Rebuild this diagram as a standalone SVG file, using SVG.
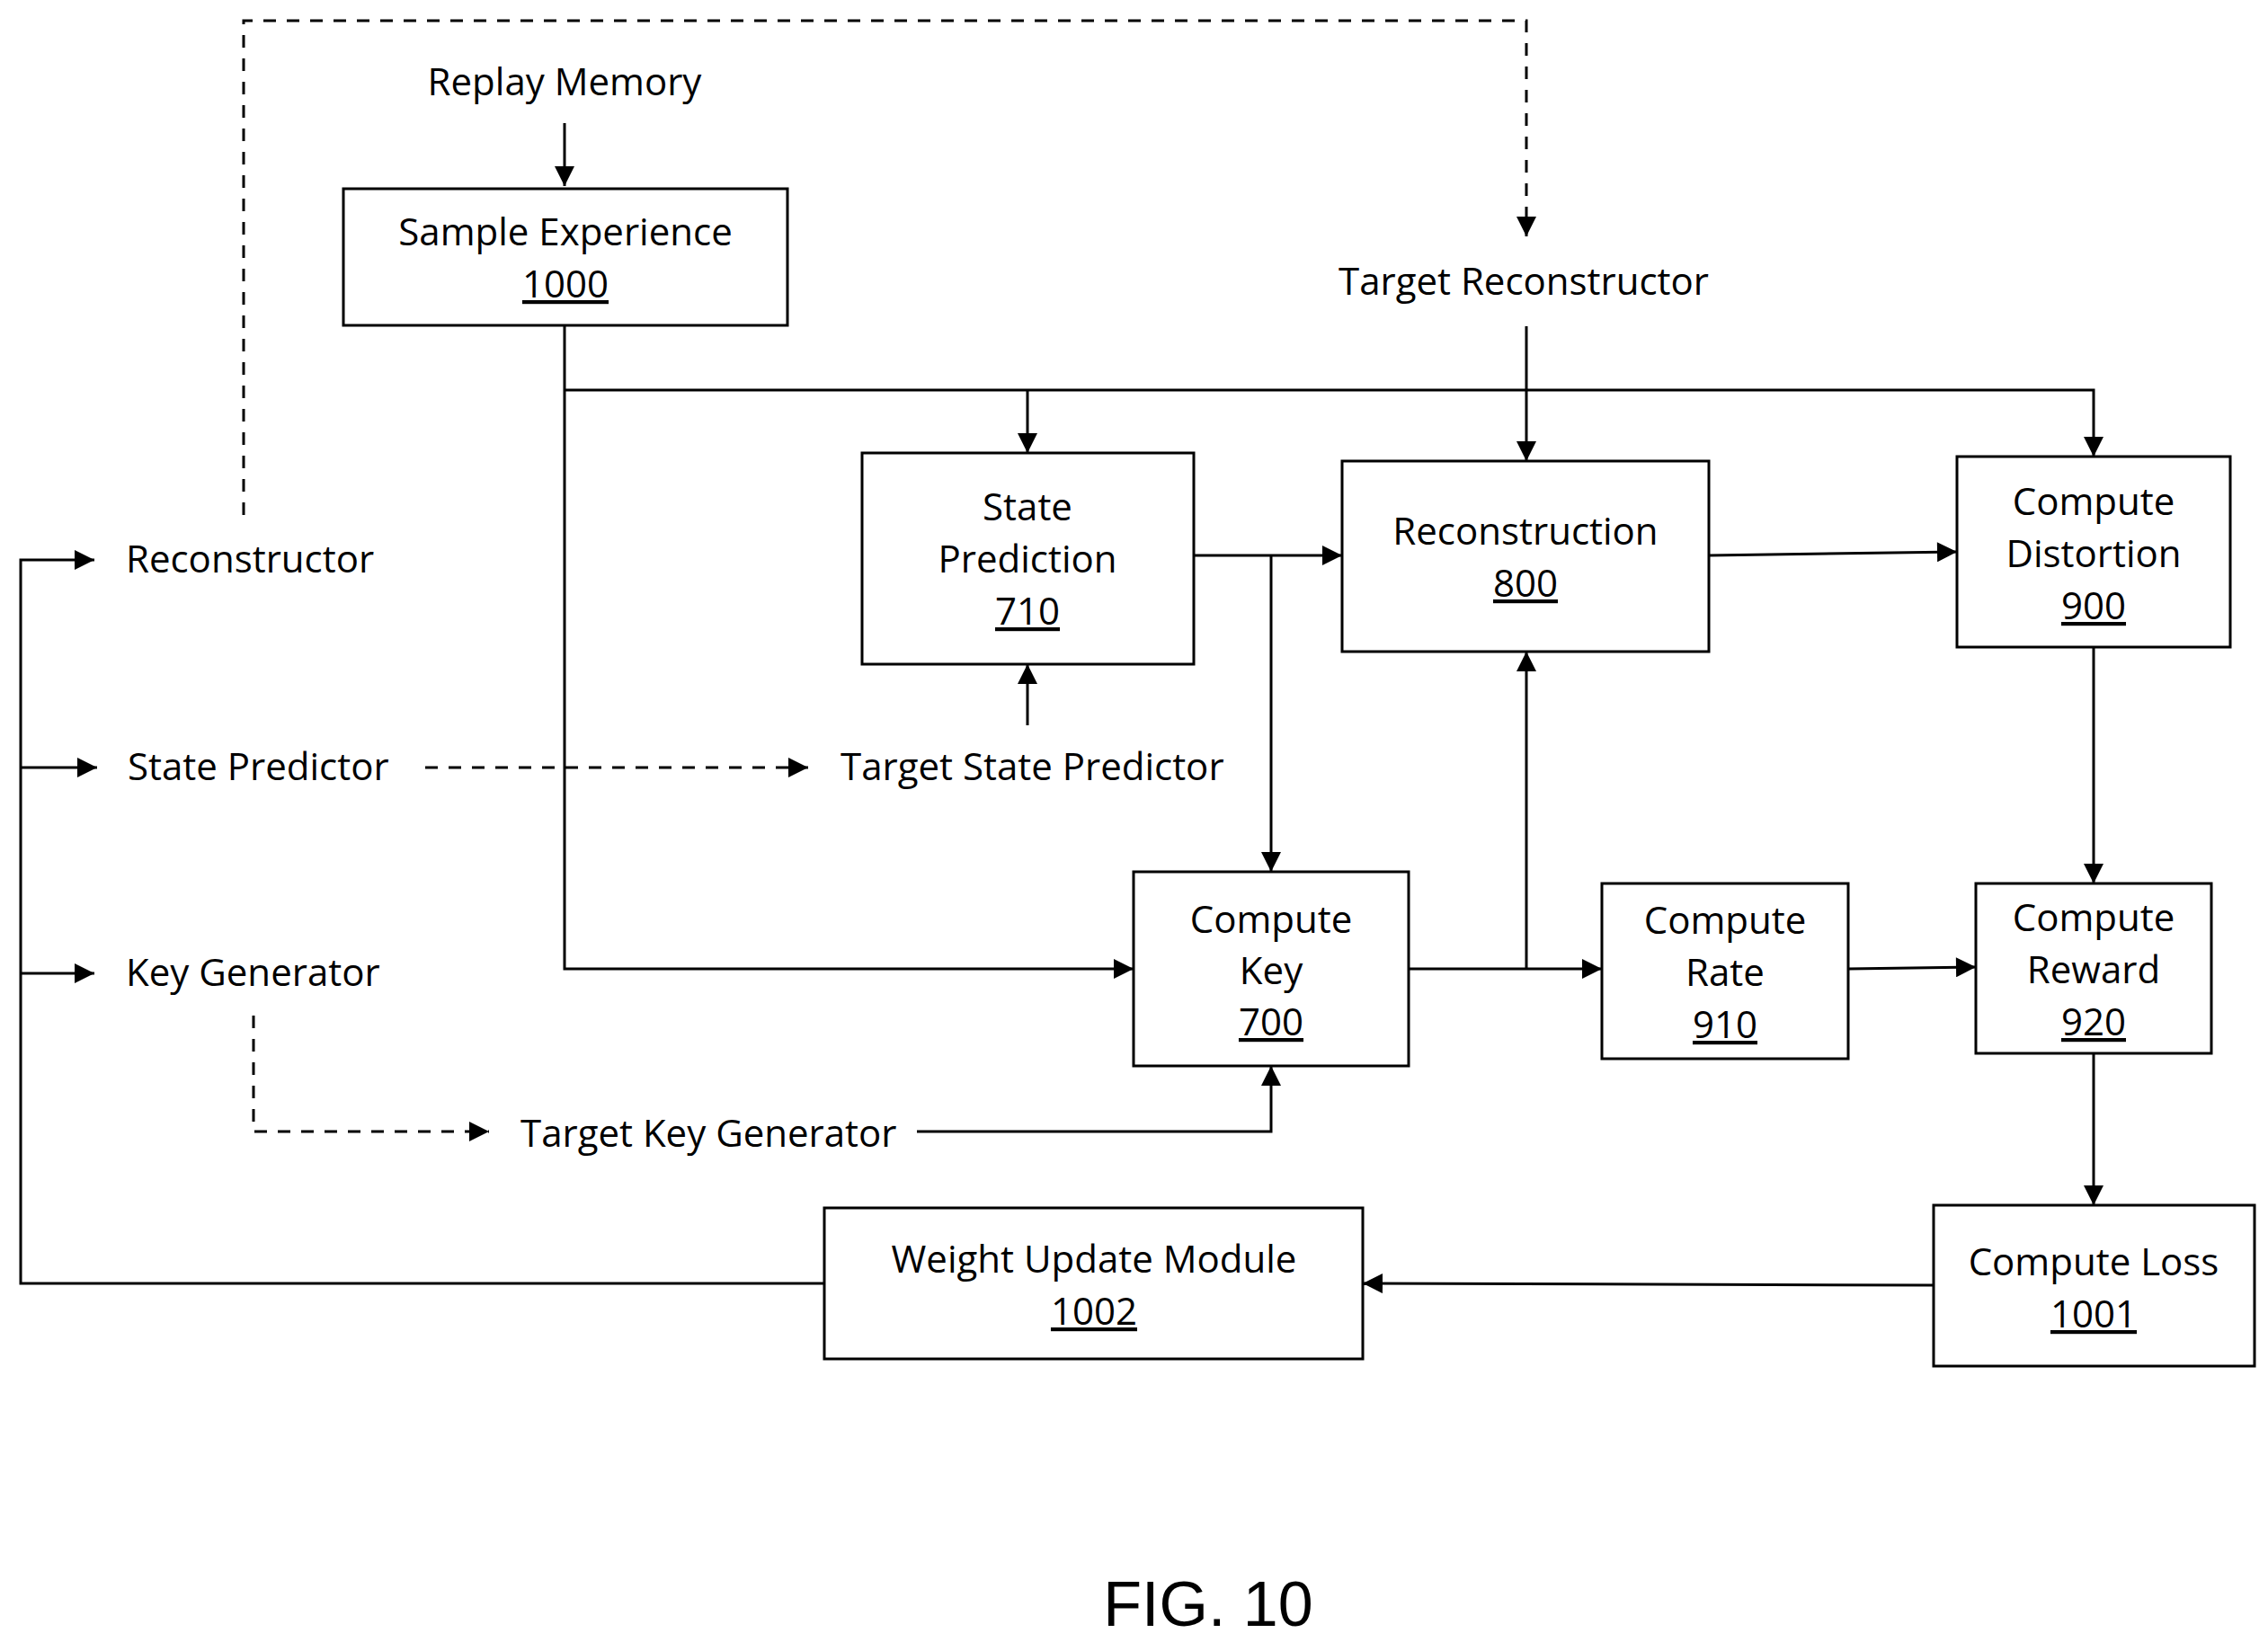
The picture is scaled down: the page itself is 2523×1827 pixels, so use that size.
<svg xmlns="http://www.w3.org/2000/svg" width="2523" height="1827" viewBox="0 0 2523 1827">
<style>
text{font-family:"Open Sans","Noto Sans","DejaVu Sans",sans-serif;font-size:42px;fill:#000}
.c{text-anchor:middle}
.u{text-decoration:underline}
rect{fill:#fff;stroke:#000;stroke-width:3}
.l{fill:none;stroke:#000;stroke-width:3}
.d{stroke-dasharray:14 12}
</style>
<defs>
<marker id="a" viewBox="0 0 10 10" refX="10" refY="5" markerWidth="24" markerHeight="22" markerUnits="userSpaceOnUse" orient="auto"><path d="M0,0L10,5L0,10z" fill="#000"/></marker>
</defs>
<rect width="2523" height="1827" style="stroke:none"/>
<g id="connectors">
<path class="l d" d="M271,573V23H1698V263" marker-end="url(#a)"/>
<path class="l" d="M628,137V207" marker-end="url(#a)"/>
<path class="l" d="M628,362V1078H1261" marker-end="url(#a)"/>
<path class="l" d="M628,434H2329V508" marker-end="url(#a)"/>
<path class="l" d="M1143,434V504" marker-end="url(#a)"/>
<path class="l" d="M1698,363V513" marker-end="url(#a)"/>
<path class="l" d="M1328,618H1493" marker-end="url(#a)"/>
<path class="l" d="M1414,618V970" marker-end="url(#a)"/>
<path class="l" d="M1143,807V739" marker-end="url(#a)"/>
<path class="l" d="M1901,618L2177,614" marker-end="url(#a)"/>
<path class="l" d="M2329,720V983" marker-end="url(#a)"/>
<path class="l" d="M1567,1078H1782" marker-end="url(#a)"/>
<path class="l" d="M1698,1078V725" marker-end="url(#a)"/>
<path class="l" d="M2056,1078L2198,1076" marker-end="url(#a)"/>
<path class="l" d="M2329,1172V1341" marker-end="url(#a)"/>
<path class="l" d="M2151,1430L1516,1428" marker-end="url(#a)"/>
<path class="l" d="M917,1428H23V623H105" marker-end="url(#a)"/>
<path class="l" d="M23,854H108" marker-end="url(#a)"/>
<path class="l" d="M23,1083H105" marker-end="url(#a)"/>
<path class="l d" d="M473,854H899" marker-end="url(#a)"/>
<path class="l d" d="M282,1130V1259H544" marker-end="url(#a)"/>
<path class="l" d="M1020,1259H1414V1186" marker-end="url(#a)"/>
</g>
<g id="labels">
<text class="c" x="628" y="106">Replay Memory</text>
<text class="c" x="1695" y="328">Target Reconstructor</text>
<text x="140" y="637">Reconstructor</text>
<text x="142" y="868">State Predictor</text>
<text x="935" y="868">Target State Predictor</text>
<text x="140" y="1097">Key Generator</text>
<text x="579" y="1276">Target Key Generator</text>
<text class="c" x="1344" y="1809" style="font-family:'Liberation Sans',Arial,sans-serif;font-size:70px">FIG. 10</text>
</g>
<g id="n1000"><rect x="382" y="210" width="494" height="152"/><text class="c" x="629" y="273">Sample Experience</text><text class="c u" x="629" y="331">1000</text></g>
<g id="n710"><rect x="959" y="504" width="369" height="235"/><text class="c" x="1143" y="579">State</text><text class="c" x="1143" y="637">Prediction</text><text class="c u" x="1143" y="695">710</text></g>
<g id="n800"><rect x="1493" y="513" width="408" height="212"/><text class="c" x="1697" y="606">Reconstruction</text><text class="c u" x="1697" y="664">800</text></g>
<g id="n900"><rect x="2177" y="508" width="304" height="212"/><text class="c" x="2329" y="573">Compute</text><text class="c" x="2329" y="631">Distortion</text><text class="c u" x="2329" y="689">900</text></g>
<g id="n700"><rect x="1261" y="970" width="306" height="216"/><text class="c" x="1414" y="1038">Compute</text><text class="c" x="1414" y="1095">Key</text><text class="c u" x="1414" y="1152">700</text></g>
<g id="n910"><rect x="1782" y="983" width="274" height="195"/><text class="c" x="1919" y="1039">Compute</text><text class="c" x="1919" y="1097">Rate</text><text class="c u" x="1919" y="1155">910</text></g>
<g id="n920"><rect x="2198" y="983" width="262" height="189"/><text class="c" x="2329" y="1036">Compute</text><text class="c" x="2329" y="1094">Reward</text><text class="c u" x="2329" y="1152">920</text></g>
<g id="n1001"><rect x="2151" y="1341" width="357" height="179"/><text class="c" x="2329" y="1419">Compute Loss</text><text class="c u" x="2329" y="1477">1001</text></g>
<g id="n1002"><rect x="917" y="1344" width="599" height="168"/><text class="c" x="1217" y="1416">Weight Update Module</text><text class="c u" x="1217" y="1474">1002</text></g>
</svg>
